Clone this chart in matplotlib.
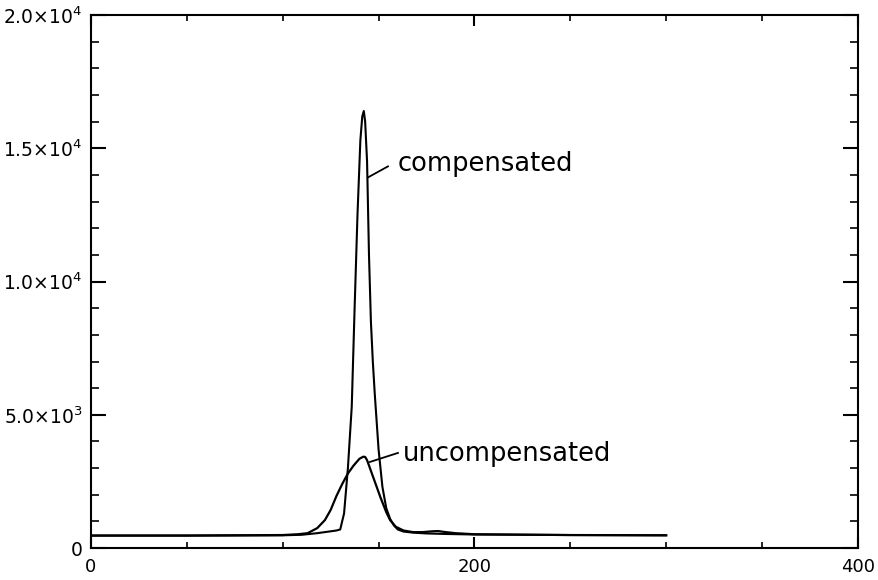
import matplotlib.pyplot as plt
from matplotlib.ticker import FixedLocator, MultipleLocator

# compensated curve
comp_x = [0, 50, 100, 110, 118, 124, 128, 130, 132, 134, 136, 137.5, 139, 140.5, 141.5,
          142.3, 143, 144, 145, 146, 147, 148, 150, 152, 154, 156, 158, 160, 163, 168,
          175, 185, 200, 250, 300]
comp_y = [470, 470, 480, 500, 560, 620, 660, 700, 1300, 3000, 5300, 9000, 12500, 15300, 16200,
          16400, 16000, 14500, 11000, 8500, 7000, 5800, 3700, 2300, 1500, 1100, 850, 700, 620, 580,
          550, 530, 510, 490, 480]

# uncompensated curve
unc_x = [0, 50, 100, 108, 113, 118, 122, 125, 128, 131, 134, 137, 140, 142, 143, 144, 146,
         148, 151, 154, 156, 159, 163, 168, 173, 178, 181, 185, 190, 200, 250, 300]
unc_y = [470, 470, 490, 520, 560, 750, 1050, 1430, 1950, 2400, 2800, 3100, 3350, 3430, 3420, 3300, 2900,
         2500, 1900, 1350, 1050, 800, 660, 600, 600, 630, 640, 600, 560, 520, 490, 480]

y_ticks = [0, 5000, 10000, 15000, 20000]
y_labels = ['0', r'5.0$\times$10$^3$', r'1.0$\times$10$^4$', r'1.5$\times$10$^4$', r'2.0$\times$10$^4$']
x_ticks = [0, 200, 400]

plt.rcParams['font.family'] = ['DejaVu Sans']
plt.rcParams['mathtext.fontset'] = 'dejavusans'
fig = plt.figure(figsize=(8.79, 5.80), dpi=100)
ax = fig.add_axes([0.1035, 0.055, 0.8725, 0.919])

ax.plot(comp_x, comp_y, color='black', lw=1.5)
ax.plot(unc_x, unc_y, color='black', lw=1.6)

ax.set_xlim(0, 400)
ax.set_ylim(0, 20000)
ax.xaxis.set_major_locator(FixedLocator(x_ticks))
ax.xaxis.set_minor_locator(MultipleLocator(50))
ax.yaxis.set_major_locator(FixedLocator(y_ticks))
ax.yaxis.set_minor_locator(MultipleLocator(1000))
ax.set_yticklabels(y_labels)

for s in ax.spines.values():
    s.set_linewidth(1.5)

ax.tick_params(axis='x', which='major', direction='in', length=8, width=1.5,
               top=True, labelsize=13, pad=7)
ax.tick_params(axis='x', which='minor', direction='in', length=4, width=1.2, top=True)
ax.tick_params(axis='y', which='major', direction='in', length=11, width=1.5,
               right=True, labelsize=13.5, pad=6)
ax.tick_params(axis='y', which='minor', direction='in', length=6, width=1.2, right=True)

# label leader lines and texts
ax.plot([144.5, 154.9], [13910, 14323], color='black', lw=1.3)
ax.text(160, 14400, 'compensated', fontsize=18.5, va='center', ha='left')
ax.plot([145.5, 160.1], [3233, 3571], color='black', lw=1.3)
ax.text(162.5, 3534, 'uncompensated', fontsize=18.5, va='center', ha='left')

plt.savefig('out.png', dpi=100)
